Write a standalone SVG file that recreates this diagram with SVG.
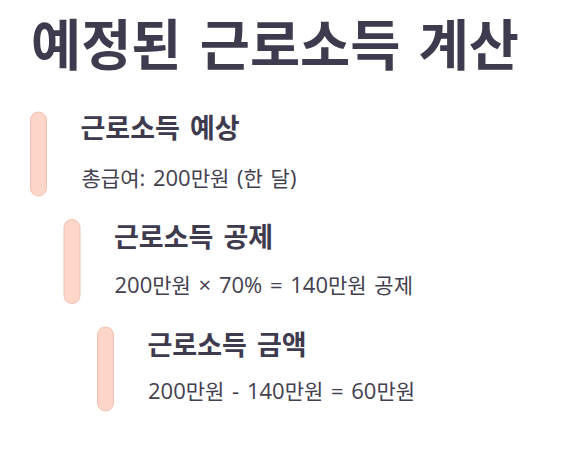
<svg xmlns="http://www.w3.org/2000/svg" width="581" height="453" viewBox="0 0 581 453">
<style>
.t{font-family:"Noto Sans CJK KR","Noto Sans",sans-serif;fill:#3e3b4e}
.title{font-size:54.5px;font-weight:700}
.h{font-size:27px;font-weight:700}
.s{font-family:"Open Sans","Noto Sans CJK KR",sans-serif;font-size:22px;font-weight:400;fill:#43404f}
.k{font-family:"Noto Sans CJK KR",sans-serif;font-size:21px}
.bar{fill:#ffd7ca;stroke:#f2c0b0;stroke-width:1}
</style>
<rect width="581" height="453" fill="#ffffff"/>
<text class="t title" x="31" y="65" word-spacing="6">예정된 근로소득 계산</text>
<g id="node1">
<rect class="bar" x="30.5" y="112" width="16" height="84" rx="8"/>
<text class="t h" x="80.5" y="138" word-spacing="4">근로소득 예상</text>
<text class="t s" x="81.5" y="186" word-spacing="2"><tspan class="k">총급여</tspan>: 200<tspan class="k">만원</tspan> (<tspan class="k">한</tspan> <tspan class="k">달</tspan>)</text>
</g>
<g id="node2">
<rect class="bar" x="64" y="219.5" width="16" height="84" rx="8"/>
<text class="t h" x="114" y="247" word-spacing="4">근로소득 공제</text>
<text class="t s" x="114.5" y="293" word-spacing="2">200<tspan class="k">만원</tspan> × 70% = 140<tspan class="k">만원</tspan> <tspan class="k">공제</tspan></text>
</g>
<g id="node3">
<rect class="bar" x="97.5" y="327" width="16" height="84" rx="8"/>
<text class="t h" x="147.5" y="354.5" word-spacing="4">근로소득 금액</text>
<text class="t s" x="148" y="399" word-spacing="2">200<tspan class="k">만원</tspan> - 140<tspan class="k">만원</tspan> = 60<tspan class="k">만원</tspan></text>
</g>
<g id="connectors"></g>
</svg>
